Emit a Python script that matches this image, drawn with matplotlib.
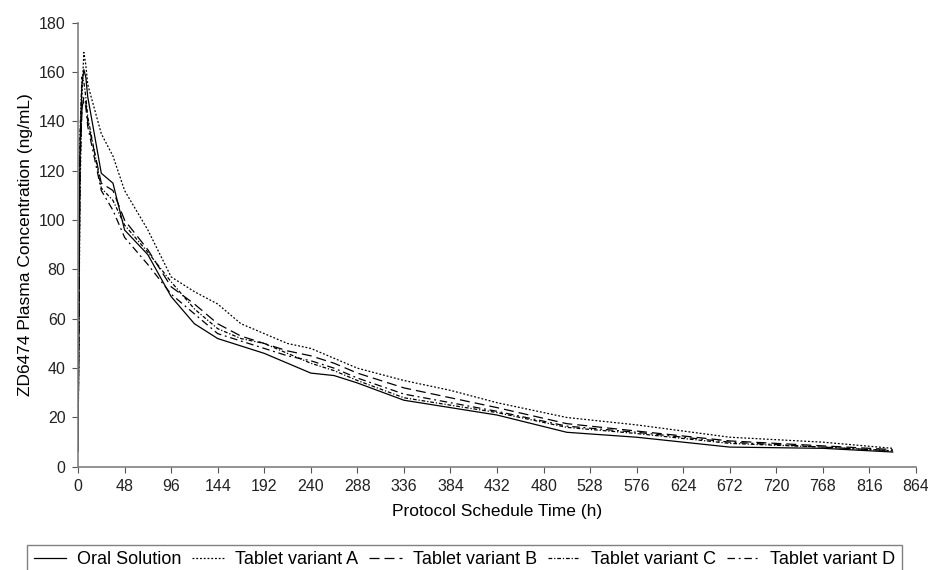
# ZD6474 plasma concentration vs protocol time for the five formulations

import matplotlib
matplotlib.use("Agg")
import matplotlib.pyplot as plt
import numpy as np

plt.rcParams["font.family"] = ["Liberation Sans", "DejaVu Sans"]

# Sampling times (h)
t_hours = [0, 2, 4, 6, 8, 10, 24, 36, 48, 72, 96, 120, 144, 168, 192, 216,
           240, 264, 288, 336, 384, 432, 504, 576, 672, 768, 840]

# Mean concentrations (ng/mL)
oral_solution = [7, 130, 155, 161, 158, 150, 119, 115, 96, 86, 69, 58, 52, 49,
                 46, 42, 38, 37, 34, 27, 24, 21, 14, 12, 8, 7.5, 6]
tablet_a = [8, 110, 150, 168, 163, 155, 135, 126, 112, 96, 77, 71, 66, 58, 54,
            50, 48, 44, 40, 35, 31, 26, 20, 17, 12, 10, 7.5]
tablet_b = [6, 120, 145, 150, 148, 140, 115, 112, 100, 88, 73, 66, 58, 53, 50,
            47, 45, 42, 38, 32, 28, 24, 17.5, 14.5, 10.5, 8.5, 7]
tablet_c = [8, 135, 158, 156, 150, 142, 113, 108, 98, 87, 75, 64, 56, 52, 50,
            46, 42, 39, 35, 28, 25, 22, 16, 13.5, 9.5, 8, 6.5]
tablet_d = [6, 125, 145, 148, 146, 138, 112, 104, 93, 82, 70, 62, 54, 51, 48,
            45, 43, 40, 36, 29.5, 26, 22.5, 16.5, 14, 10, 8, 6.5]

series = [
    ("Oral Solution", oral_solution, "-"),
    ("Tablet variant A", tablet_a, (0, (1.5, 1.5))),
    ("Tablet variant B", tablet_b, (0, (8, 4))),
    ("Tablet variant C", tablet_c, (0, (3, 1.5, 1, 1.5))),
    ("Tablet variant D", tablet_d, (0, (6, 3, 1.5, 3))),
]

fig = plt.figure(figsize=(9.29, 5.70), dpi=100)
ax = fig.add_axes([0.084, 0.181, 0.902, 0.779])

for label, conc, ls in series:
    ax.plot(t_hours, conc, color="black", lw=0.9, linestyle=ls, label=label)

ax.set_xlim(0, 864)
ax.set_ylim(0, 180)
ax.set_xticks(np.arange(0, 865, 48))
ax.set_yticks(np.arange(0, 181, 20))
ax.tick_params(labelsize=11.5, direction="out", length=4, width=0.8,
               color="#555555", pad=5, labelcolor="#222222")

for side in ["top", "right"]:
    ax.spines[side].set_visible(False)
for side in ["left", "bottom"]:
    ax.spines[side].set_color("#808080")
    ax.spines[side].set_linewidth(1.2)

ax.set_xlabel("Protocol Schedule Time (h)", fontsize=12.5, labelpad=7)
ax.set_ylabel("ZD6474 Plasma Concentration (ng/mL)", fontsize=12.5, labelpad=4)

leg = fig.legend(loc="upper center", bbox_to_anchor=(0.5, 0.044), ncol=5,
                 fontsize=13, frameon=True, fancybox=False, handlelength=1.8,
                 columnspacing=0.6, handletextpad=0.6, borderpad=0.35,
                 borderaxespad=0)
leg.get_frame().set_edgecolor("#606060")
leg.get_frame().set_linewidth(1.0)

fig.savefig("out.png", dpi=100)
